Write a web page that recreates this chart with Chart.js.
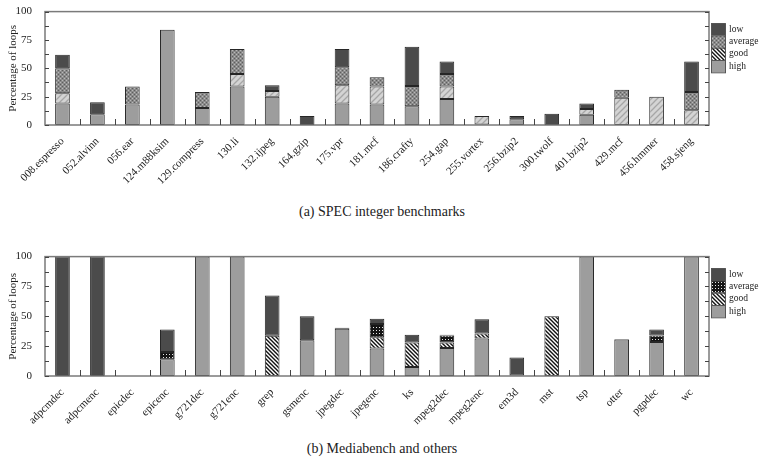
<!DOCTYPE html>
<html lang="en">
<head>
<meta charset="UTF-8">
<title>Percentage of loops</title>
<script src="https://cdn.jsdelivr.net/npm/chart.js"></script>
<style>
  body { margin: 0; background: #fff; font-family: "Liberation Serif", "DejaVu Serif", serif; }
  #wrap { position: relative; width: 764px; height: 471px; }
  .box { position: absolute; left: 0; width: 764px; }
  .cap { position: absolute; left: 0; width: 764px; text-align: center; font-size: 14px; line-height: 16px; color: #222; }
</style>
</head>
<body>
<div id="wrap">
  <div class="box" style="top:0;height:200px"><canvas id="specChart"></canvas></div>
  <div class="cap" style="top:204px">(a) SPEC integer benchmarks</div>
  <div class="box" style="top:245px;height:195px"><canvas id="mediaChart"></canvas></div>
  <div class="cap" style="top:441px">(b) Mediabench and others</div>
</div>

<script>
// ---- data: (a) SPEC integer benchmarks
const specLabels = ['008.espresso', '052.alvinn', '056.ear', '124.m88ksim', '129.compress', '130.li',
  '132.ijpeg', '164.gzip', '175.vpr', '181.mcf', '186.crafty', '254.gap', '255.vortex', '256.bzip2',
  '300.twolf', '401.bzip2', '429.mcf', '456.hmmer', '458.sjeng'];
const specHigh    = [19, 9.5, 18, 84, 15, 34, 25, 0, 19, 18, 16.5, 23, 0.5, 5, 0, 9, 0, 0, 0];
const specGood    = [9, 0, 0, 0, 0, 11, 5, 0, 16, 16, 0, 11, 7.5, 0, 0, 5, 24, 25, 13];
const specAverage = [22, 0, 16, 0, 14, 22, 0, 0, 16, 8, 18, 11, 0, 0, 0, 0, 7, 0, 16];
const specLow     = [12, 10.5, 0, 0, 0, 0, 5, 8, 16, 0, 34.5, 11, 0, 3, 10, 5, 0, 0, 27];

// ---- data: (b) Mediabench and others
const mediaLabels = ['adpcmdec', 'adpcmenc', 'epicdec', 'epicenc', 'g721dec', 'g721enc', 'grep', 'gsmenc',
  'jpegdec', 'jpegenc', 'ks', 'mpeg2dec', 'mpeg2enc', 'em3d', 'mst', 'tsp', 'otter', 'pgpdec', 'wc'];
const mediaHigh    = [0, 0, 0, 14, 100, 100, 0, 30, 39.5, 23, 7.5, 23.5, 31.5, 0.5, 0, 100, 30.5, 28.5, 100];
const mediaGood    = [0, 0, 0, 0, 0, 0, 33.7, 0, 0, 9.5, 20.5, 4.5, 4, 0, 50, 0, 0, 0, 0];
const mediaAverage = [0, 0, 0, 6, 0, 0, 0, 0, 1, 11, 0, 6, 0, 0, 0, 0, 0, 5.5, 0];
const mediaLow     = [100, 100, 0, 19, 0, 0, 33.7, 20, 0, 4.5, 6.5, 0.5, 12, 15, 0, 0, 0.5, 5, 0];

const yTicks = [0, 25, 50, 75, 100];

// ---- fill patterns
function makePattern(size, draw) {
  const c = document.createElement('canvas');
  c.width = size; c.height = size;
  const g = c.getContext('2d');
  draw(g, size);
  return g.createPattern(c, 'repeat');
}
const LOW = '#4b4b4b', HIGH = '#9d9d9d';
const grayCross = makePattern(4, (g) => {
  g.fillStyle = '#8a8a8a'; g.fillRect(0, 0, 4, 4);
  g.fillStyle = '#5e5e5e'; g.fillRect(0, 0, 1, 1); g.fillRect(2, 2, 1, 1);
  g.fillStyle = '#b8b8b8'; g.fillRect(2, 0, 1, 1); g.fillRect(0, 2, 1, 1);
});
const lightHatch = makePattern(6, (g, s) => {
  g.fillStyle = '#d4d4d4'; g.fillRect(0, 0, s, s);
  g.strokeStyle = '#a6a6a6'; g.lineWidth = 1.3;
  g.beginPath();
  g.moveTo(-1, 1); g.lineTo(1, -1);
  g.moveTo(0, s); g.lineTo(s, 0);
  g.moveTo(s - 1, s + 1); g.lineTo(s + 1, s - 1);
  g.stroke();
});
const bwHatch = makePattern(4, (g, s) => {
  g.fillStyle = '#fff'; g.fillRect(0, 0, s, s);
  g.strokeStyle = '#111'; g.lineWidth = 1.4;
  g.beginPath();
  g.moveTo(-1, -1); g.lineTo(s + 1, s + 1);
  g.moveTo(-1, s - 1); g.lineTo(1, s + 1);
  g.moveTo(s - 1, -1); g.lineTo(s + 1, 1);
  g.stroke();
});
const blackDots = makePattern(3, (g) => {
  g.fillStyle = '#151515'; g.fillRect(0, 0, 3, 3);
  g.fillStyle = '#e8e8e8'; g.fillRect(1, 1, 1, 1);
});

// zero -> null so empty segments draw nothing
const nz = arr => arr.map(v => (v ? v : null));

function barSet(label, data, fill) {
  return {
    label, data: nz(data), backgroundColor: fill,
    borderColor: '#262626', borderWidth: 1, borderSkipped: false,
    barPercentage: 0.42, categoryPercentage: 1
  };
}

// frame, inward ticks and side legend
const framePlugin = {
  id: 'frame',
  afterDatasetsDraw(chart, args, opts) {
    const { ctx, chartArea: a, scales: { x, y } } = chart;
    ctx.save();
    ctx.strokeStyle = '#7a7a7a';
    ctx.lineWidth = 1.5;
    ctx.strokeRect(a.left, a.top, a.right - a.left, a.bottom - a.top);
    ctx.strokeStyle = '#444';
    ctx.lineWidth = 1;
    ctx.beginPath();
    for (let v = 0; v <= 100; v += 12.5) {
      const py = Math.round(y.getPixelForValue(v)) + 0.5;
      ctx.moveTo(a.left, py); ctx.lineTo(a.left + 4, py);
      ctx.moveTo(a.right, py); ctx.lineTo(a.right - 4, py);
    }
    const n = chart.data.labels.length;
    for (let i = 0; i < n - 1; i++) {
      const px = Math.round((x.getPixelForValue(i) + x.getPixelForValue(i + 1)) / 2) + 0.5;
      ctx.moveTo(px, a.bottom); ctx.lineTo(px, a.bottom - 6);
    }
    ctx.stroke();

    // legend column
    const lx = a.right + 2, bw = 14, bh = 12.3;
    let ly = a.top + opts.legendTop;
    ctx.font = '9.5px "Liberation Serif", serif';
    ctx.textBaseline = 'middle';
    opts.items.forEach(it => {
      ctx.fillStyle = it.fill;
      ctx.fillRect(lx, ly, bw, bh);
      ctx.strokeStyle = '#555';
      ctx.strokeRect(lx + 0.5, ly + 0.5, bw, bh);
      ctx.fillStyle = '#222';
      ctx.fillText(it.label, lx + bw + 4, ly + bh / 2);
      ly += bh;
    });
    ctx.restore();
  }
};

function makeChart(id, labels, sets, padTop, xHeight, legendItems, legendTop) {
  return new Chart(document.getElementById(id), {
    type: 'bar',
    data: { labels, datasets: sets },
    plugins: [framePlugin],
    options: {
      responsive: true,
      maintainAspectRatio: false,
      animation: false,
      layout: { padding: { top: padTop, right: 55, left: 0, bottom: 0 } },
      plugins: {
        legend: { display: false },
        tooltip: { enabled: false },
        frame: { items: legendItems, legendTop }
      },
      scales: {
        x: {
          stacked: true,
          grid: { display: false },
          border: { display: false },
          ticks: {
            autoSkip: false, minRotation: 45, maxRotation: 45, padding: 2,
            color: '#222', font: { family: '"Liberation Serif", serif', size: 11 }
          },
          afterFit: s => { s.height = xHeight; }
        },
        y: {
          stacked: true,
          min: 0, max: 100,
          afterBuildTicks: s => { s.ticks = yTicks.map(v => ({ value: v })); },
          grid: { display: false },
          border: { display: false },
          ticks: { padding: 5, color: '#222', font: { family: '"Liberation Serif", serif', size: 11 } },
          title: {
            display: true, text: 'Percentage of loops', color: '#222',
            padding: { top: 7, bottom: 0 },
            font: { family: '"Liberation Serif", serif', size: 11 }
          },
          afterFit: s => { s.width = 45; }
        }
      }
    }
  });
}

makeChart('specChart', specLabels, [
  barSet('high', specHigh, HIGH),
  barSet('good', specGood, lightHatch),
  barSet('average', specAverage, grayCross),
  barSet('low', specLow, LOW)
], 5, 75, [
  { label: 'low', fill: LOW },
  { label: 'average', fill: grayCross },
  { label: 'good', fill: bwHatch },
  { label: 'high', fill: HIGH }
], 11.5);

makeChart('mediaChart', mediaLabels, [
  barSet('high', mediaHigh, HIGH),
  barSet('good', mediaGood, bwHatch),
  barSet('average', mediaAverage, blackDots),
  barSet('low', mediaLow, LOW)
], 10, 64, [
  { label: 'low', fill: LOW },
  { label: 'average', fill: blackDots },
  { label: 'good', fill: bwHatch },
  { label: 'high', fill: HIGH }
], 11.5);
</script>
</body>
</html>
